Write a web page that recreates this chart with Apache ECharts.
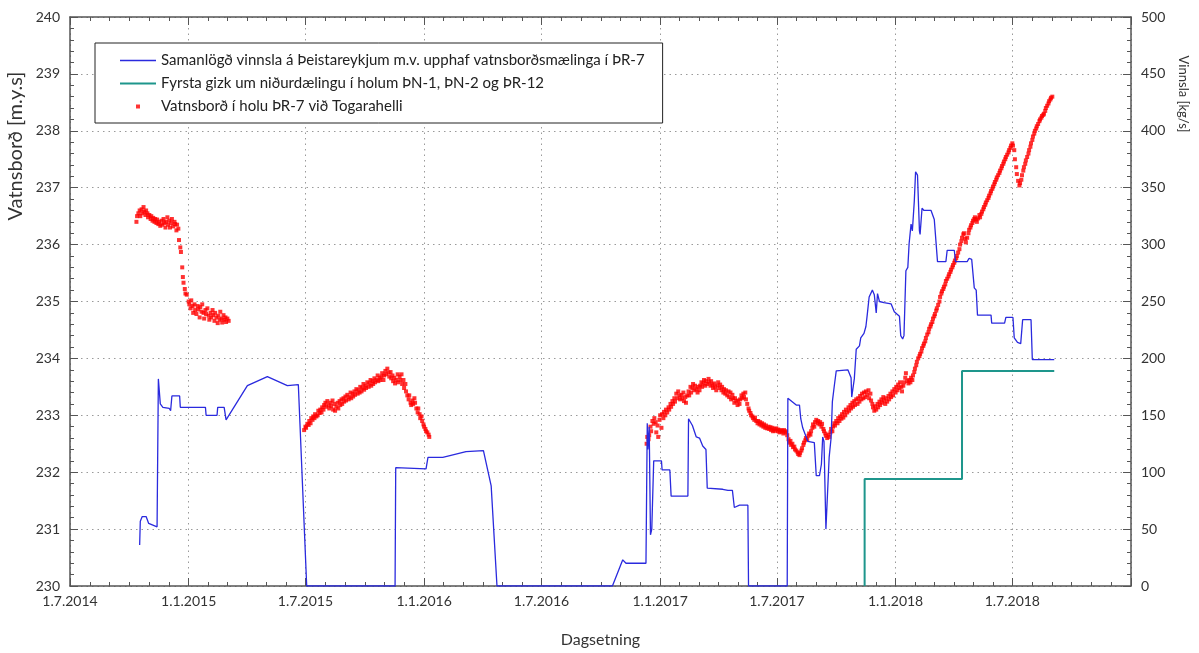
<!DOCTYPE html>
<html>
<head>
<meta charset="utf-8">
<script src="https://cdn.jsdelivr.net/npm/echarts@6/dist/echarts.min.js"></script>
<style>
  html, body { margin: 0; padding: 0; background: #ffffff; }
  #chart { width: 1199px; height: 653px; }
</style>
</head>
<body>
<div id="chart"></div>
<script>
// Series names (legend order)
const productionName = 'Samanlögð vinnsla á Þeistareykjum m.v. upphaf vatnsborðsmælinga í ÞR-7';
const injectionName = 'Fyrsta gizk um niðurdælingu í holum ÞN-1, ÞN-2 og ÞR-12';
const levelName = 'Vatnsborð í holu ÞR-7 við Togarahelli';

// Axis titles
const xTitle = 'Dagsetning';
const leftTitle = 'Vatnsborð [m.y.s]';
const rightTitle = 'Vinnsla [kg/s]';

// Axis ranges
const dateStart = '2014-07-01';
const dateEnd = '2019-01-01';
const levelMin = 230, levelMax = 240, levelStep = 1;
const flowMin = 0, flowMax = 500, flowStep = 50;

// Cumulative production [date, kg/s]
const production = [
  ['2014-10-17', 36], ['2014-10-18', 57], ['2014-10-21', 61], ['2014-10-27', 61], ['2014-10-31', 55],
  ['2014-11-13', 52], ['2014-11-15', 182], ['2014-11-18', 160], ['2014-11-22', 157], ['2014-12-02', 156],
  ['2014-12-04', 154], ['2014-12-06', 167], ['2014-12-18', 167], ['2014-12-19', 157], ['2015-01-27', 157],
  ['2015-01-28', 150], ['2015-02-14', 150], ['2015-02-15', 157], ['2015-02-25', 157], ['2015-02-28', 146],
  ['2015-04-02', 176], ['2015-05-03', 184], ['2015-06-03', 176], ['2015-06-20', 177], ['2015-07-03', 0],
  ['2015-11-17', 0], ['2015-11-18', 104], ['2016-01-04', 103], ['2016-01-07', 113], ['2016-01-30', 113],
  ['2016-03-06', 118], ['2016-04-02', 119], ['2016-04-14', 88], ['2016-04-23', 0], ['2016-10-19', 0],
  ['2016-11-04', 23], ['2016-11-09', 20], ['2016-12-10', 20], ['2016-12-12', 143], ['2016-12-13', 120],
  ['2016-12-15', 140], ['2016-12-17', 45], ['2016-12-19', 50], ['2016-12-22', 110], ['2017-01-03', 110],
  ['2017-01-04', 102], ['2017-01-16', 102], ['2017-01-18', 79], ['2017-02-13', 79], ['2017-02-14', 147],
  ['2017-02-20', 141], ['2017-02-26', 131], ['2017-03-03', 130], ['2017-03-08', 123], ['2017-03-13', 120],
  ['2017-03-15', 86], ['2017-04-08', 85], ['2017-04-16', 84], ['2017-04-23', 84], ['2017-04-26', 69],
  ['2017-05-04', 71], ['2017-05-17', 71], ['2017-05-18', 0], ['2017-07-17', 0], ['2017-07-18', 165],
  ['2017-07-31', 159], ['2017-08-05', 159], ['2017-08-07', 147], ['2017-08-10', 139], ['2017-08-18', 127],
  ['2017-08-28', 126], ['2017-08-31', 97], ['2017-09-05', 97], ['2017-09-08', 107], ['2017-09-10', 131],
  ['2017-09-12', 127], ['2017-09-15', 50], ['2017-09-17', 49], ['2017-09-20', 113], ['2017-09-23', 130],
  ['2017-09-25', 162], ['2017-09-28', 176], ['2017-10-01', 189], ['2017-10-19', 190], ['2017-10-24', 183],
  ['2017-10-25', 166], ['2017-10-29', 182], ['2017-11-01', 208], ['2017-11-06', 211], ['2017-11-08', 218],
  ['2017-11-13', 222], ['2017-11-16', 228], ['2017-11-18', 238], ['2017-11-21', 254], ['2017-11-26', 260],
  ['2017-11-29', 256], ['2017-12-02', 240], ['2017-12-04', 257], ['2017-12-07', 250], ['2017-12-14', 249],
  ['2017-12-25', 248], ['2017-12-27', 247], ['2017-12-30', 241], ['2018-01-01', 240], ['2018-01-07', 237],
  ['2018-01-09', 220], ['2018-01-12', 217], ['2018-01-14', 220], ['2018-01-17', 277], ['2018-01-20', 280],
  ['2018-01-22', 301], ['2018-01-25', 318], ['2018-01-27', 312], ['2018-01-30', 338], ['2018-02-01', 364],
  ['2018-02-04', 361], ['2018-02-07', 312], ['2018-02-08', 309], ['2018-02-11', 332], ['2018-02-14', 330],
  ['2018-02-25', 330], ['2018-03-02', 322], ['2018-03-07', 285], ['2018-03-20', 285], ['2018-03-22', 295],
  ['2018-04-02', 295], ['2018-04-04', 285], ['2018-04-22', 285], ['2018-04-25', 288], ['2018-04-29', 287],
  ['2018-05-03', 262], ['2018-05-06', 260], ['2018-05-08', 238], ['2018-05-29', 238], ['2018-05-30', 231],
  ['2018-06-19', 231], ['2018-06-21', 236], ['2018-07-02', 236], ['2018-07-04', 218], ['2018-07-09', 214],
  ['2018-07-14', 213], ['2018-07-17', 234], ['2018-07-30', 234], ['2018-08-01', 199], ['2018-09-04', 199]
];

// First estimate of reinjection [date, kg/s]
const injection = [
  ['2017-11-14', 0], ['2017-11-14', 94], ['2018-04-14', 94], ['2018-04-14', 189], ['2018-09-04', 189]
];

// Water level in well ÞR-7 [date, m a.s.l.]
const levels2014 = [
  ['2014-10-12',236.40],['2014-10-13',236.50],['2014-10-15',236.55],['2014-10-17',236.60],['2014-10-18',236.50],
  ['2014-10-20',236.62],['2014-10-21',236.55],['2014-10-23',236.66],['2014-10-24',236.58],['2014-10-26',236.52],
  ['2014-10-27',236.60],['2014-10-29',236.55],['2014-10-30',236.48],['2014-11-01',236.52],['2014-11-03',236.45],
  ['2014-11-04',236.50],['2014-11-06',236.42],['2014-11-07',236.47],['2014-11-09',236.40],['2014-11-10',236.45],
  ['2014-11-12',236.38],['2014-11-13',236.44],['2014-11-15',236.36],['2014-11-16',236.40],['2014-11-18',236.33],
  ['2014-11-20',236.42],['2014-11-21',236.35],['2014-11-23',236.45],['2014-11-24',236.38],['2014-11-26',236.30],
  ['2014-11-27',236.40],['2014-11-29',236.48],['2014-11-30',236.35],['2014-12-02',236.42],['2014-12-03',236.30],
  ['2014-12-05',236.38],['2014-12-06',236.45],['2014-12-08',236.32],['2014-12-10',236.40],['2014-12-11',236.36],
  ['2014-12-13',236.25],['2014-12-14',236.35],['2014-12-16',236.28],['2014-12-17',236.08],['2014-12-19',235.95],
  ['2014-12-20',235.87],['2014-12-22',235.60],['2014-12-23',235.43],['2014-12-24',235.33],['2014-12-26',235.22],
  ['2014-12-27',235.14],['2014-12-29',235.12],['2015-01-01',235.00],['2015-01-02',234.95],['2015-01-04',234.88],
  ['2015-01-05',235.02],['2015-01-07',234.92],['2015-01-08',234.80],['2015-01-10',234.95],['2015-01-11',234.85],
  ['2015-01-13',234.78],['2015-01-15',234.92],['2015-01-16',234.86],['2015-01-18',234.72],['2015-01-19',234.90],
  ['2015-01-21',234.82],['2015-01-22',234.95],['2015-01-24',234.80],['2015-01-25',234.70],['2015-01-27',234.85],
  ['2015-01-28',234.78],['2015-01-30',234.88],['2015-02-01',234.75],['2015-02-02',234.68],['2015-02-04',234.80],
  ['2015-02-05',234.72],['2015-02-07',234.85],['2015-02-08',234.76],['2015-02-10',234.66],['2015-02-11',234.80],
  ['2015-02-13',234.72],['2015-02-15',234.62],['2015-02-16',234.75],['2015-02-18',234.68],['2015-02-19',234.82],
  ['2015-02-21',234.70],['2015-02-22',234.63],['2015-02-24',234.76],['2015-02-25',234.68],['2015-02-27',234.72],
  ['2015-02-28',234.64],['2015-03-02',234.70],['2015-03-04',234.66]
];

const levels2015 = [
  ['2015-06-29',232.74],['2015-07-01',232.80],['2015-07-02',232.78],['2015-07-04',232.85],['2015-07-06',232.83],
  ['2015-07-07',232.90],['2015-07-09',232.86],['2015-07-10',232.95],['2015-07-12',232.92],['2015-07-13',232.98],
  ['2015-07-15',232.95],['2015-07-16',233.02],['2015-07-18',232.98],['2015-07-20',233.00],['2015-07-21',233.08],
  ['2015-07-23',233.04],['2015-07-24',233.10],['2015-07-26',233.05],['2015-07-27',233.14],['2015-07-29',233.10],
  ['2015-07-30',233.18],['2015-08-01',233.22],['2015-08-02',233.15],['2015-08-04',233.25],['2015-08-06',233.18],
  ['2015-08-07',233.12],['2015-08-09',233.22],['2015-08-10',233.16],['2015-08-12',233.26],['2015-08-13',233.10],
  ['2015-08-15',233.20],['2015-08-16',233.08],['2015-08-18',233.15],['2015-08-20',233.22],['2015-08-21',233.12],
  ['2015-08-23',233.25],['2015-08-24',233.18],['2015-08-26',233.28],['2015-08-27',233.20],['2015-08-29',233.30],
  ['2015-08-30',233.24],['2015-09-01',233.33],['2015-09-02',233.26],['2015-09-04',233.36],['2015-09-06',233.28],
  ['2015-09-07',233.32],['2015-09-09',233.40],['2015-09-10',233.30],['2015-09-12',233.38],['2015-09-13',233.33],
  ['2015-09-15',233.42],['2015-09-16',233.36],['2015-09-18',233.46],['2015-09-20',233.38],['2015-09-21',233.44],
  ['2015-09-23',233.40],['2015-09-24',233.50],['2015-09-26',233.42],['2015-09-27',233.48],['2015-09-29',233.55],
  ['2015-09-30',233.45],['2015-10-02',233.52],['2015-10-03',233.48],['2015-10-05',233.58],['2015-10-07',233.50],
  ['2015-10-08',233.56],['2015-10-10',233.62],['2015-10-11',233.52],['2015-10-13',233.60],['2015-10-14',233.55],
  ['2015-10-16',233.65],['2015-10-17',233.58],['2015-10-19',233.62],['2015-10-21',233.70],['2015-10-22',233.60],
  ['2015-10-24',233.66],['2015-10-25',233.62],['2015-10-27',233.68],['2015-10-28',233.74],['2015-10-30',233.62],
  ['2015-10-31',233.70],['2015-11-02',233.78],['2015-11-03',233.72],['2015-11-05',233.82],['2015-11-07',233.75],
  ['2015-11-08',233.68],['2015-11-10',233.76],['2015-11-11',233.65],['2015-11-13',233.70],['2015-11-14',233.60],
  ['2015-11-16',233.66],['2015-11-17',233.56],['2015-11-19',233.62],['2015-11-21',233.72],['2015-11-22',233.58],
  ['2015-11-24',233.68],['2015-11-25',233.62],['2015-11-27',233.72],['2015-11-28',233.55],['2015-11-30',233.62],
  ['2015-12-01',233.48],['2015-12-03',233.55],['2015-12-04',233.42],['2015-12-06',233.35],['2015-12-08',233.28],
  ['2015-12-09',233.35],['2015-12-11',233.22],['2015-12-12',233.18],['2015-12-14',233.26],['2015-12-15',233.20],
  ['2015-12-17',233.30],['2015-12-18',233.22],['2015-12-20',233.12],['2015-12-22',233.05],['2015-12-23',233.12],
  ['2015-12-25',233.02],['2015-12-26',232.95],['2015-12-28',232.98],['2015-12-29',232.90],['2015-12-31',232.84],
  ['2016-01-01',232.80],['2016-01-03',232.76],['2016-01-04',232.72],['2016-01-06',232.70],['2016-01-08',232.66],
  ['2016-01-09',232.62]
];

const levels2017 = [
  ['2016-12-11',232.50],['2016-12-12',232.62],['2016-12-14',232.58],['2016-12-15',232.65],['2016-12-17',232.80],
  ['2016-12-18',232.72],['2016-12-20',232.90],['2016-12-22',232.85],['2016-12-23',232.95],['2016-12-25',232.88],
  ['2016-12-26',232.70],['2016-12-28',232.82],['2016-12-29',232.62],['2016-12-31',232.92],['2017-01-01',233.00],
  ['2017-01-03',232.78],['2017-01-04',233.02],['2017-01-06',232.95],['2017-01-07',233.06],['2017-01-09',233.00],
  ['2017-01-10',233.10],['2017-01-12',233.05],['2017-01-14',233.14],['2017-01-15',233.10],['2017-01-17',233.20],
  ['2017-01-18',233.15],['2017-01-20',233.25],['2017-01-21',233.20],['2017-01-23',233.30],['2017-01-24',233.24],
  ['2017-01-26',233.38],['2017-01-28',233.30],['2017-01-29',233.42],['2017-01-31',233.35],['2017-02-01',233.28],
  ['2017-02-03',233.36],['2017-02-04',233.30],['2017-02-06',233.40],['2017-02-07',233.25],['2017-02-09',233.32],
  ['2017-02-10',233.22],['2017-02-12',233.35],['2017-02-14',233.42],['2017-02-15',233.35],['2017-02-17',233.50],
  ['2017-02-18',233.40],['2017-02-20',233.48],['2017-02-21',233.55],['2017-02-23',233.44],['2017-02-24',233.52],
  ['2017-02-26',233.46],['2017-02-28',233.40],['2017-03-01',233.50],['2017-03-03',233.44],['2017-03-04',233.52],
  ['2017-03-06',233.58],['2017-03-07',233.50],['2017-03-09',233.56],['2017-03-10',233.62],['2017-03-12',233.52],
  ['2017-03-13',233.60],['2017-03-15',233.55],['2017-03-17',233.64],['2017-03-18',233.58],['2017-03-20',233.52],
  ['2017-03-21',233.60],['2017-03-23',233.54],['2017-03-24',233.48],['2017-03-26',233.56],['2017-03-27',233.50],
  ['2017-03-29',233.44],['2017-03-31',233.52],['2017-04-01',233.58],['2017-04-03',233.48],['2017-04-04',233.54],
  ['2017-04-06',233.44],['2017-04-07',233.50],['2017-04-09',233.40],['2017-04-10',233.46],['2017-04-12',233.38],
  ['2017-04-13',233.44],['2017-04-15',233.35],['2017-04-17',233.42],['2017-04-18',233.32],['2017-04-20',233.40],
  ['2017-04-21',233.28],['2017-04-23',233.36],['2017-04-24',233.30],['2017-04-26',233.22],['2017-04-27',233.30],
  ['2017-04-29',233.25],['2017-05-01',233.18],['2017-05-02',233.26],['2017-05-04',233.20],['2017-05-05',233.28],
  ['2017-05-07',233.35],['2017-05-08',233.30],['2017-05-10',233.38],['2017-05-11',233.32],['2017-05-13',233.40],
  ['2017-05-14',233.28],['2017-05-16',233.20],['2017-05-18',233.12],['2017-05-19',233.08],['2017-05-21',233.04],
  ['2017-05-22',233.00],['2017-05-24',232.98],['2017-05-25',232.95],['2017-05-27',232.92],['2017-05-28',232.96],
  ['2017-05-30',232.90],['2017-06-01',232.86],['2017-06-02',232.90],['2017-06-04',232.84],['2017-06-05',232.88],
  ['2017-06-07',232.82],['2017-06-08',232.86],['2017-06-10',232.80],['2017-06-11',232.84],['2017-06-13',232.78],
  ['2017-06-14',232.82],['2017-06-16',232.77],['2017-06-18',232.80],['2017-06-19',232.76],['2017-06-21',232.79],
  ['2017-06-22',232.74],['2017-06-24',232.78],['2017-06-25',232.72],['2017-06-27',232.76],['2017-06-28',232.73],
  ['2017-06-30',232.77],['2017-07-02',232.72],['2017-07-03',232.75],['2017-07-05',232.70],['2017-07-06',232.74],
  ['2017-07-08',232.71],['2017-07-09',232.73],['2017-07-11',232.68],['2017-07-12',232.74],['2017-07-14',232.70],
  ['2017-07-15',232.72],['2017-07-17',232.65],['2017-07-19',232.58],['2017-07-20',232.52],['2017-07-22',232.55],
  ['2017-07-23',232.48],['2017-07-25',232.50],['2017-07-26',232.44],['2017-07-28',232.45],['2017-07-29',232.40],
  ['2017-07-31',232.38],['2017-08-02',232.35],['2017-08-03',232.32],['2017-08-05',232.30],['2017-08-06',232.34],
  ['2017-08-08',232.38],['2017-08-09',232.42],['2017-08-11',232.48],['2017-08-12',232.52],['2017-08-14',232.56],
  ['2017-08-15',232.60],['2017-08-17',232.58],['2017-08-19',232.64],['2017-08-20',232.68],['2017-08-22',232.66],
  ['2017-08-23',232.72],['2017-08-25',232.78],['2017-08-26',232.84],['2017-08-28',232.80],['2017-08-29',232.88],
  ['2017-08-31',232.92],['2017-09-02',232.86],['2017-09-03',232.90],['2017-09-05',232.84],['2017-09-06',232.88],
  ['2017-09-08',232.80],['2017-09-09',232.85],['2017-09-11',232.76],['2017-09-12',232.72],['2017-09-14',232.68],
  ['2017-09-15',232.64],['2017-09-17',232.60],['2017-09-19',232.66],['2017-09-20',232.62],['2017-09-22',232.70],
  ['2017-09-23',232.76],['2017-09-25',232.72],['2017-09-26',232.80],['2017-09-28',232.86],['2017-09-29',232.82],
  ['2017-10-01',232.90],['2017-10-03',232.86],['2017-10-04',232.95],['2017-10-06',232.90],['2017-10-07',232.98],
  ['2017-10-09',232.94],['2017-10-10',233.02],['2017-10-12',232.96],['2017-10-13',233.06],['2017-10-15',233.00],
  ['2017-10-16',233.10],['2017-10-18',233.05],['2017-10-20',233.14],['2017-10-21',233.08],['2017-10-23',233.18],
  ['2017-10-24',233.12],['2017-10-26',233.22],['2017-10-27',233.15],['2017-10-29',233.25],['2017-10-30',233.18],
  ['2017-11-01',233.28],['2017-11-03',233.20],['2017-11-04',233.30],['2017-11-06',233.24],['2017-11-07',233.34],
  ['2017-11-09',233.28],['2017-11-10',233.38],['2017-11-12',233.30],['2017-11-13',233.40],['2017-11-15',233.32],
  ['2017-11-16',233.42],['2017-11-18',233.36],['2017-11-20',233.44],['2017-11-21',233.30],['2017-11-23',233.38],
  ['2017-11-24',233.26],['2017-11-26',233.20],['2017-11-27',233.14],['2017-11-29',233.08],['2017-11-30',233.16],
  ['2017-12-02',233.10],['2017-12-04',233.20],['2017-12-05',233.14],['2017-12-07',233.24],['2017-12-08',233.18],
  ['2017-12-10',233.28],['2017-12-11',233.22],['2017-12-13',233.32],['2017-12-14',233.26],['2017-12-16',233.20],
  ['2017-12-17',233.30],['2017-12-19',233.24],['2017-12-21',233.34],['2017-12-22',233.28],['2017-12-24',233.38],
  ['2017-12-25',233.32],['2017-12-27',233.42],['2017-12-28',233.35],['2017-12-30',233.46],['2018-01-01',233.40],
  ['2018-01-02',233.50],['2018-01-04',233.44],['2018-01-05',233.54],['2018-01-07',233.48],['2018-01-08',233.58],
  ['2018-01-10',233.50],['2018-01-11',233.42],['2018-01-13',233.52],['2018-01-14',233.58],['2018-01-16',233.66],
  ['2018-01-17',233.74],['2018-01-19',233.60],['2018-01-21',233.56],['2018-01-22',233.62],['2018-01-24',233.58],
  ['2018-01-25',233.66],['2018-01-27',233.62],['2018-01-28',233.70],['2018-01-30',233.76],['2018-01-31',233.82],
  ['2018-02-02',233.88],['2018-02-03',233.94],['2018-02-05',234.00],['2018-02-07',234.04],['2018-02-08',234.08],
  ['2018-02-10',234.12],['2018-02-11',234.18],['2018-02-13',234.22],['2018-02-14',234.26],['2018-02-16',234.30],
  ['2018-02-17',234.36],['2018-02-19',234.42],['2018-02-21',234.46],['2018-02-22',234.52],['2018-02-24',234.56],
  ['2018-02-25',234.60],['2018-02-27',234.64],['2018-02-28',234.70],['2018-03-02',234.74],['2018-03-03',234.78],
  ['2018-03-05',234.84],['2018-03-06',234.88],['2018-03-08',234.94],['2018-03-10',235.00],['2018-03-11',235.08],
  ['2018-03-13',235.14],['2018-03-14',235.18],['2018-03-16',235.22],['2018-03-17',235.26],['2018-03-19',235.30],
  ['2018-03-20',235.36],['2018-03-22',235.40],['2018-03-24',235.44],['2018-03-25',235.48],['2018-03-27',235.52],
  ['2018-03-28',235.56],['2018-03-30',235.60],['2018-03-31',235.64],['2018-04-02',235.68],['2018-04-03',235.72],
  ['2018-04-05',235.76],['2018-04-06',235.80],['2018-04-08',235.86],['2018-04-10',235.92],['2018-04-11',236.00],
  ['2018-04-13',236.06],['2018-04-14',236.12],['2018-04-16',236.18],['2018-04-17',236.20],['2018-04-19',236.10],
  ['2018-04-20',236.04],['2018-04-22',236.12],['2018-04-24',236.20],['2018-04-25',236.26],['2018-04-27',236.30],
  ['2018-04-28',236.34],['2018-04-30',236.38],['2018-05-01',236.42],['2018-05-03',236.45],['2018-05-04',236.48],
  ['2018-05-06',236.44],['2018-05-07',236.40],['2018-05-09',236.46],['2018-05-11',236.52],['2018-05-12',236.48],
  ['2018-05-14',236.54],['2018-05-15',236.58],['2018-05-17',236.62],['2018-05-18',236.66],['2018-05-20',236.70],
  ['2018-05-21',236.74],['2018-05-23',236.78],['2018-05-25',236.82],['2018-05-26',236.86],['2018-05-28',236.90],
  ['2018-05-29',236.94],['2018-05-31',236.98],['2018-06-01',237.02],['2018-06-03',237.06],['2018-06-04',237.10],
  ['2018-06-06',237.14],['2018-06-07',237.18],['2018-06-09',237.22],['2018-06-11',237.26],['2018-06-12',237.30],
  ['2018-06-14',237.34],['2018-06-15',237.38],['2018-06-17',237.42],['2018-06-18',237.46],['2018-06-20',237.50],
  ['2018-06-21',237.54],['2018-06-23',237.58],['2018-06-25',237.62],['2018-06-26',237.66],['2018-06-28',237.70],
  ['2018-06-29',237.74],['2018-07-01',237.78],['2018-07-02',237.74],['2018-07-04',237.66],['2018-07-05',237.50],
  ['2018-07-07',237.36],['2018-07-08',237.24],['2018-07-10',237.12],['2018-07-12',237.04],['2018-07-13',237.08],
  ['2018-07-15',237.14],['2018-07-16',237.22],['2018-07-18',237.30],['2018-07-19',237.36],['2018-07-21',237.42],
  ['2018-07-22',237.48],['2018-07-24',237.54],['2018-07-26',237.60],['2018-07-27',237.66],['2018-07-29',237.72],
  ['2018-07-30',237.78],['2018-08-01',237.84],['2018-08-02',237.90],['2018-08-04',237.95],['2018-08-05',238.00],
  ['2018-08-07',238.04],['2018-08-08',238.08],['2018-08-10',238.12],['2018-08-12',238.17],['2018-08-13',238.20],
  ['2018-08-15',238.23],['2018-08-16',238.26],['2018-08-18',238.28],['2018-08-19',238.30],['2018-08-21',238.35],
  ['2018-08-22',238.40],['2018-08-24',238.44],['2018-08-26',238.48],['2018-08-27',238.52],['2018-08-29',238.55],
  ['2018-08-30',238.58],['2018-09-01',238.60]
];

const waterLevel = levels2014.concat(levels2015, levels2017);

const FONT = 'Lato, "Open Sans", "DejaVu Sans", sans-serif';
const AXIS_COLOR = '#555555';
const TEXT_COLOR = '#333333';
const PRODUCTION_COLOR = '#2a2ade';
const INJECTION_COLOR = '#1e968c';
const LEVEL_COLOR = '#ff0000';
const HALF_YEAR = 365 * 24 * 3600 * 1000 / 2;

function dateLabel(value) {
  const d = new Date(value);
  return d.getDate() + '.' + (d.getMonth() + 1) + '.' + d.getFullYear();
}

const frameLine = { show: true, onZero: false, lineStyle: { color: AXIS_COLOR, width: 1.5 } };
const majorTick = { show: true, inside: true, length: 8, lineStyle: { color: AXIS_COLOR, width: 1 } };
const minorTickStyle = (n) => ({ show: true, splitNumber: n, length: 4, lineStyle: { color: AXIS_COLOR, width: 1 } });
const gridDots = { show: true, lineStyle: { color: '#9a9a9a', width: 1, type: [1.5, 4] } };

const chart = echarts.init(document.getElementById('chart'), null, { renderer: 'canvas' });

chart.setOption({
  animation: false,
  backgroundColor: '#ffffff',
  textStyle: { fontFamily: FONT },
  grid: { left: 70, right: 68, top: 17, bottom: 60, containLabel: false },
  legend: {
    orient: 'vertical',
    left: 95,
    top: 43,
    padding: [9, 18, 8, 25],
    itemGap: 6,
    itemWidth: 36,
    itemHeight: 4,
    borderColor: '#222222',
    borderWidth: 1,
    backgroundColor: '#ffffff',
    selectedMode: false,
    textStyle: { fontFamily: FONT, fontSize: 15, color: '#222222', lineHeight: 17 },
    data: [
      // plain strokes as line keys, a small square as the point key
      { name: productionName, icon: 'path://M0 0H36V1.3H0Z', itemStyle: { color: PRODUCTION_COLOR } },
      { name: injectionName, icon: 'path://M0 0H36V2H0Z', itemStyle: { color: INJECTION_COLOR } },
      { name: levelName, icon: 'path://M0 0H4V4H0Z', itemStyle: { color: LEVEL_COLOR } }
    ]
  },
  xAxis: [
    {
      type: 'time', position: 'bottom', min: dateStart, max: dateEnd,
      minInterval: HALF_YEAR, maxInterval: HALF_YEAR, splitNumber: 9,
      name: xTitle, nameLocation: 'middle', nameGap: 46,
      nameTextStyle: { fontFamily: FONT, fontSize: 16, color: TEXT_COLOR },
      axisLine: frameLine,
      axisTick: majorTick,
      minorTick: minorTickStyle(6),
      axisLabel: { formatter: dateLabel, margin: 8, fontSize: 14, color: TEXT_COLOR, fontFamily: FONT, hideOverlap: false },
      splitLine: gridDots
    },
    {
      type: 'time', position: 'top', min: dateStart, max: dateEnd,
      minInterval: HALF_YEAR, maxInterval: HALF_YEAR, splitNumber: 9,
      axisLine: frameLine,
      axisTick: majorTick,
      minorTick: minorTickStyle(6),
      axisLabel: { show: false },
      splitLine: { show: false }
    }
  ],
  yAxis: [
    {
      type: 'value', position: 'left', min: levelMin, max: levelMax, interval: levelStep,
      axisLine: frameLine,
      axisTick: majorTick,
      minorTick: minorTickStyle(5),
      axisLabel: { margin: 10, fontSize: 14, color: TEXT_COLOR, fontFamily: FONT },
      splitLine: gridDots
    },
    {
      type: 'value', position: 'right', min: flowMin, max: flowMax, interval: flowStep,
      axisLine: frameLine,
      axisTick: majorTick,
      minorTick: minorTickStyle(5),
      axisLabel: { margin: 10, fontSize: 14, color: TEXT_COLOR, fontFamily: FONT },
      splitLine: { show: false }
    }
  ],
  graphic: [
    {
      type: 'text', x: 16, y: 146, rotation: Math.PI / 2,
      style: { text: leftTitle, fontFamily: FONT, fontSize: 20, fill: TEXT_COLOR, align: 'center', verticalAlign: 'middle' }
    },
    {
      type: 'text', x: 1183, y: 94, rotation: -Math.PI / 2,
      style: { text: rightTitle, fontFamily: FONT, fontSize: 13, fill: TEXT_COLOR, align: 'center', verticalAlign: 'middle' }
    }
  ],
  series: [
    {
      name: levelName, type: 'scatter', xAxisIndex: 0, yAxisIndex: 0,
      symbol: 'rect', symbolSize: 4, z: 2,
      itemStyle: { color: LEVEL_COLOR },
      data: waterLevel
    },
    {
      name: productionName, type: 'line', xAxisIndex: 0, yAxisIndex: 1,
      symbol: 'none', showSymbol: false, z: 3,
      lineStyle: { color: PRODUCTION_COLOR, width: 1.3 },
      itemStyle: { color: PRODUCTION_COLOR },
      data: production
    },
    {
      name: injectionName, type: 'line', xAxisIndex: 0, yAxisIndex: 1,
      symbol: 'none', showSymbol: false, z: 3,
      lineStyle: { color: INJECTION_COLOR, width: 2 },
      itemStyle: { color: INJECTION_COLOR },
      data: injection
    }
  ]
});
</script>
</body>
</html>
